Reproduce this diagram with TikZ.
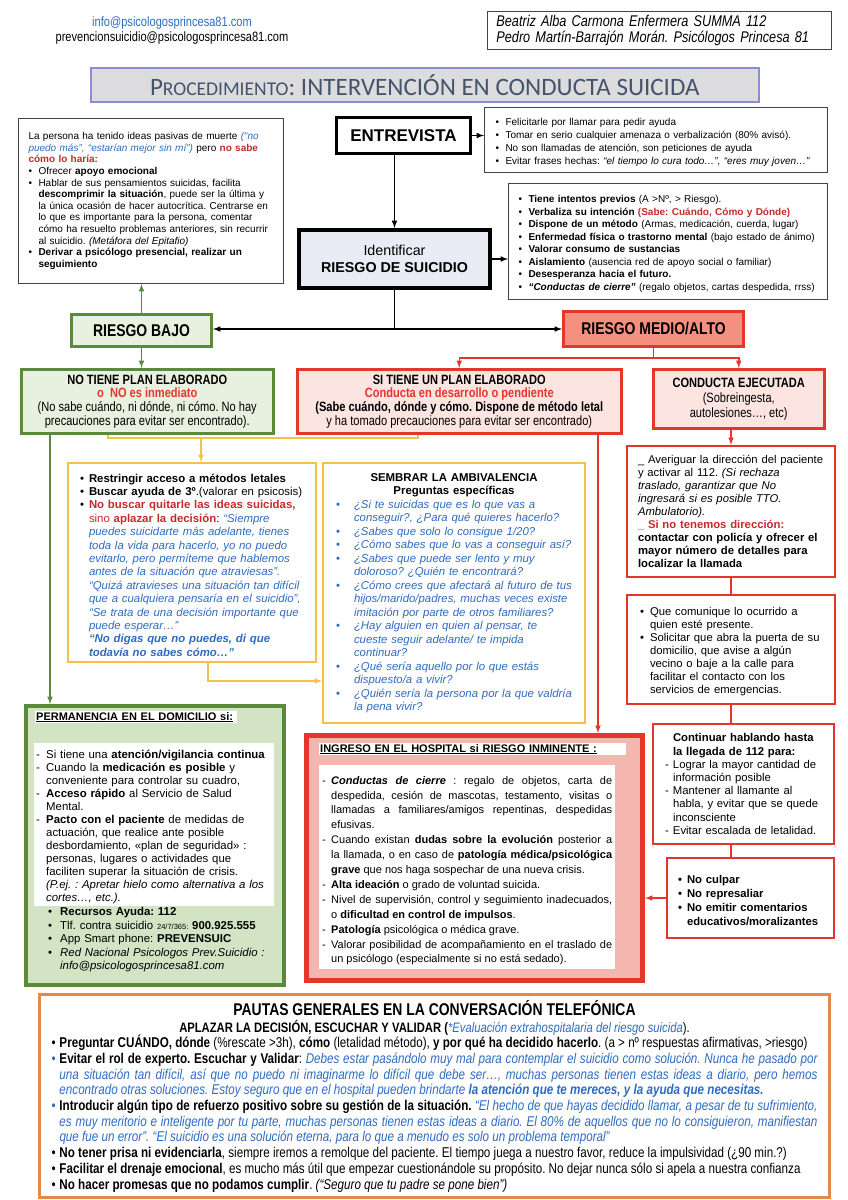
\documentclass[tikz,border=0pt]{standalone}
\usepackage{fontspec}
\setmainfont{Liberation Sans}
\newfontfamily\estrecha[FakeStretch=0.82]{Liberation Sans}
\newfontfamily\calibri{Carlito}
\usepackage{tikz}
\usetikzlibrary{calc}
\setlength{\parindent}{0pt}
\hyphenpenalty=10000
\exhyphenpenalty=10000
\frenchspacing

\definecolor{verde}{HTML}{5B8A3C}
\definecolor{verdeclaro}{HTML}{E8F1DF}
\definecolor{verdemedio}{HTML}{D2E4C3}
\definecolor{rojo}{HTML}{E4362B}
\definecolor{rojotexto}{HTML}{C42A2A}
\definecolor{salmon}{HTML}{F3907F}
\definecolor{rosa}{HTML}{FCE4E1}
\definecolor{rosafuerte}{HTML}{F4B7B0}
\definecolor{azul}{HTML}{2E6BC0}
\definecolor{amarillo}{HTML}{F2C14A}
\definecolor{naranja}{HTML}{E3894C}
\definecolor{pizarra}{HTML}{44546A}
\definecolor{lavanda}{HTML}{8C8CD0}
\definecolor{grisfondo}{HTML}{DCDCDF}
\definecolor{grisazul}{HTML}{E9ECF4}
\definecolor{grisborde}{HTML}{444444}

\newcommand{\tam}[2]{\fontsize{#1}{#2}\selectfont}
\newcommand{\punto}[2][10pt]{\par\hangindent=#1\hangafter=1\noindent\makebox[#1][l]{\textcolor{#2}{•}}}
\newcommand{\guion}[1][10pt]{\par\hangindent=#1\hangafter=1\noindent\makebox[#1][l]{-}}

\begin{document}
\begin{tikzpicture}[x=1pt, y=-1pt,
  caja/.style={draw, rectangle, anchor=north west, align=left, inner ysep=2pt},
  flecha/.style={->, >=latex, line width=1.5pt},
  linea/.style={line width=1.5pt}]

\useasboundingbox (0,0) rectangle (847,1200);

% cabecera
\node [font=\estrecha\tam{13.5}{15}, text=azul] (correo) at (172,23) {info@psicologosprincesa81.com};
\node [font=\estrecha\tam{13.5}{15}] (correosuic) at (172,38) {prevencionsuicidio@psicologosprincesa81.com};
\node [caja, draw=grisborde, line width=0.8pt, minimum width=344, minimum height=38, inner xsep=9pt, text width=326, font=\estrecha\itshape\tam{15.5}{16}] (autores) at (487,11) {Beatriz Alba Carmona Enfermera SUMMA 112\\Pedro Martín-Barrajón Morán. Psicólogos Princesa 81};
\node [caja, draw=lavanda, line width=1.5pt, fill=grisfondo, minimum width=668, minimum height=34, align=center, text=pizarra, font=\calibri\tam{25}{26}] (titulo) at (90,67) {P{\tam{19.5}{21}ROCEDIMIENTO}: INTERVENCIÓN EN CONDUCTA SUICIDA};

% entrevista y riesgo
\node [caja, line width=3pt, minimum width=134, minimum height=36, align=center, font=\bfseries\tam{17}{20}] (entrevista) at (335,116) {ENTREVISTA};
\node [caja, draw=grisborde, line width=1pt, minimum width=343, minimum height=65, inner xsep=11pt, text width=321, font=\tam{10}{13}] (consejos) at (484,107) {\punto{black}Felicitarle por llamar para pedir ayuda
\punto{black}Tomar en serio cualquier amenaza o verbalización (80\% avisó).
\punto{black}No son llamadas de atención, son peticiones de ayuda
\punto{black}Evitar frases hechas: \textit{“el tiempo lo cura todo…”, “eres muy joven…”}\par};
\node [caja, draw=grisborde, line width=1pt, minimum width=265, minimum height=165, inner xsep=10pt, text width=245, font=\tam{10}{11.6}] (ideas) at (18,118) {La persona ha tenido ideas pasivas de muerte \textcolor{azul}{\itshape (“no\newline puedo más”, “estarían mejor sin mí”)} pero \textcolor{rojotexto}{\bfseries no sabe\newline cómo lo haría:}
\punto{black}Ofrecer \textbf{apoyo emocional}
\punto{black}Hablar de sus pensamientos suicidas, facilita\newline \textbf{descomprimir la situación}, puede ser la última y\newline la única ocasión de hacer autocrítica. Centrarse en\newline lo que es importante para la persona, comentar\newline cómo ha resuelto problemas anteriores, sin recurrir\newline al suicidio. \textit{(Metáfora del Epitafio)}
\punto{black}\textbf{Derivar a psicólogo presencial, realizar un\newline seguimiento}\par};
\node [caja, line width=4pt, fill=grisazul, minimum width=191, minimum height=58, align=center, font=\tam{14.3}{17}] (identificar) at (297,228) {Identificar\\\textbf{RIESGO DE SUICIDIO}};
\node [caja, draw=grisborde, line width=1pt, minimum width=319, minimum height=116, inner xsep=10pt, text width=299, font=\tam{10}{12.5}] (factores) at (508,183) {\punto{black}\textbf{Tiene intentos previos} (A >Nº, > Riesgo).
\punto{black}\textbf{Verbaliza su intención} \textcolor{rojotexto}{\bfseries (Sabe: Cuándo, Cómo y Dónde)}
\punto{black}\textbf{Dispone de un método} (Armas, medicación, cuerda, lugar)
\punto{black}\textbf{Enfermedad física o trastorno mental} (bajo estado de ánimo)
\punto{black}\textbf{Valorar consumo de sustancias}
\punto{black}\textbf{Aislamiento} (ausencia red de apoyo social o familiar)
\punto{black}\textbf{Desesperanza hacia el futuro.}
\punto{black}\textbf{\textit{“Conductas de cierre”}} (regalo objetos, cartas despedida, rrss)\par};

% niveles
\node [caja, draw=verde, line width=3pt, fill=verdeclaro, minimum width=140, minimum height=32, align=center, font=\estrecha\bfseries\tam{17}{19}] (bajo) at (70,313) {RIESGO BAJO};
\node [caja, draw=rojo, line width=3pt, fill=salmon, minimum width=180, minimum height=35, align=center, font=\estrecha\bfseries\tam{17}{19}] (medio) at (562,310) {RIESGO MEDIO/ALTO};
\node [caja, draw=verde, line width=2.5pt, fill=verdeclaro, minimum width=252, minimum height=64, align=center, font=\estrecha\tam{13.5}{13.7}] (notiene) at (20,368) {\textbf{NO TIENE PLAN ELABORADO}\\\textcolor{rojo}{\bfseries o\ \ NO es inmediato}\\(No sabe cuándo, ni dónde, ni cómo. No hay\\precauciones para evitar ser encontrado).};
\node [caja, draw=rojo, line width=2.5pt, fill=rosa, minimum width=324, minimum height=64, align=center, font=\estrecha\tam{13.5}{13.7}] (sitiene) at (296,368) {\textbf{SI TIENE UN PLAN ELABORADO}\\\textcolor{rojo}{\bfseries Conducta en desarrollo o pendiente}\\\textbf{(Sabe cuándo, dónde y cómo. Dispone de método letal}\\y ha tomado precauciones para evitar ser encontrado)};
\node [caja, draw=rojo, line width=2.5pt, fill=rosa, minimum width=171, minimum height=59, align=center, font=\estrecha\tam{13.5}{15}] (conducta) at (652,368) {\textbf{CONDUCTA EJECUTADA}\\(Sobreingesta,\\autolesiones…, etc)};

% cajas amarillas
\node [caja, draw=amarillo, line width=2pt, minimum width=248, minimum height=199, inner xsep=12pt, text width=224, font=\tam{11.4}{13.4}] (aplazar) at (67,462) {\punto[9pt]{black}\textbf{Restringir acceso a métodos letales}
\punto[9pt]{black}\textbf{Buscar ayuda de 3º}.(valorar en psicosis)
\punto[9pt]{black}\textcolor{rojotexto}{\bfseries No buscar quitarle las ideas suicidas,}\newline \textcolor{rojotexto}{sino \textbf{aplazar la decisión}}: \textcolor{azul}{\itshape “Siempre\newline puedes suicidarte más adelante, tienes\newline toda la vida para hacerlo, yo no puedo\newline evitarlo, pero permíteme que hablemos\newline antes de la situación que atraviesas”.\newline “Quizá atravieses una situación tan difícil\newline que a cualquiera pensaría en el suicidio”,\newline “Se trata de una decisión importante que\newline puede esperar…”\newline \bfseries “No digas que no puedes, di que\newline todavía no sabes cómo…”}\par};
\node [caja, draw=amarillo, line width=2pt, minimum width=262, minimum height=260, inner xsep=13pt, text width=236, font=\tam{11.4}{13.5}] (ambivalencia) at (322,462) {{\centering\bfseries SEMBRAR LA AMBIVALENCIA\\Preguntas específicas\par}
\punto[18pt]{azul}\textcolor{azul}{\itshape ¿Si te suicidas que es lo que vas a\newline conseguir?, ¿Para qué quieres hacerlo?}
\punto[18pt]{azul}\textcolor{azul}{\itshape ¿Sabes que solo lo consigue 1/20?}
\punto[18pt]{azul}\textcolor{azul}{\itshape ¿Cómo sabes que lo vas a conseguir así?}
\punto[18pt]{azul}\textcolor{azul}{\itshape ¿Sabes que puede ser lento y muy\newline doloroso? ¿Quién te encontrará?}
\punto[18pt]{azul}\textcolor{azul}{\itshape ¿Cómo crees que afectará al futuro de tus\newline hijos/marido/padres, muchas veces existe\newline imitación por parte de otros familiares?}
\punto[18pt]{azul}\textcolor{azul}{\itshape ¿Hay alguien en quien al pensar, te\newline cueste seguir adelante/ te impida\newline continuar?}
\punto[18pt]{azul}\textcolor{azul}{\itshape ¿Qué sería aquello por lo que estás\newline dispuesto/a a vivir?}
\punto[18pt]{azul}\textcolor{azul}{\itshape ¿Quién sería la persona por la que valdría\newline la pena vivir?}\par};

% columna derecha
\node [caja, draw=rojo, line width=2pt, minimum width=208, minimum height=131, inner xsep=11pt, text width=186, font=\tam{11.3}{13}] (direccion) at (626,445) {\_ Averiguar la dirección del paciente\\y activar al 112. \textit{(Si rechaza\\traslado, garantizar que No\\ingresará si es posible TTO.\\Ambulatorio).}\\\textcolor{rojotexto}{\bfseries \_ Si no tenemos dirección:}\\\textbf{contactar con policía y ofrecer el\\mayor número de detalles para\\localizar la llamada}};
\node [caja, draw=rojo, line width=2pt, minimum width=208, minimum height=109, inner xsep=13pt, text width=182, font=\tam{11.3}{13}] (comunique) at (626,594) {\punto{black}Que comunique lo ocurrido a\newline quien esté presente.
\punto{black}Solicitar que abra la puerta de su\newline domicilio, que avise a algún\newline vecino o baje a la calle para\newline facilitar el contacto con los\newline servicios de emergencias.\par};
\node [caja, draw=rojo, line width=2pt, minimum width=181, minimum height=120, inner xsep=12pt, text width=157, font=\tam{11.3}{13.2}] (hablando) at (652,723) {\hangindent=8pt\hangafter=0\textbf{Continuar hablando hasta\newline la llegada de 112 para:}
\guion[8pt]Lograr la mayor cantidad de\newline información posible
\guion[8pt]Mantener al llamante al\newline habla, y evitar que se quede\newline inconsciente
\guion[8pt]Evitar escalada de letalidad.\par};
\node [caja, draw=rojo, line width=2pt, minimum width=167, minimum height=80, inner xsep=11pt, text width=145, font=\bfseries\tam{11.3}{14}] (noculpar) at (666,857) {\punto[9pt]{black}No culpar
\punto[9pt]{black}No represaliar
\punto[9pt]{black}No emitir comentarios\newline educativos/moralizantes\par};

% permanencia
\node [caja, draw=verde, line width=4pt, fill=verdemedio, minimum width=258, minimum height=279] (domicilio) at (24,704) {};
\node [anchor=north west, fill=white, inner sep=1pt, minimum height=12, text width=200, align=left, font=\bfseries\tam{11}{12}] (domtit) at (35,711) {\underline{PERMANENCIA EN EL DOMICILIO si:}};
\node [anchor=north west, fill=white, inner xsep=2pt, inner ysep=2pt, text width=236, align=left, font=\tam{11.4}{13}] (domlista) at (34,743) {\guion Si tiene una \textbf{atención/vigilancia continua}
\guion Cuando la \textbf{medicación es posible} y\newline conveniente para controlar su cuadro,
\guion \textbf{Acceso rápido} al Servicio de Salud\newline Mental.
\guion \textbf{Pacto con el paciente} de medidas de\newline actuación, que realice ante posible\newline desbordamiento, «plan de seguridad» :\newline personas, lugares o actividades que\newline faciliten superar la situación de crisis.\newline \textit{(P.ej. : Apretar hielo como alternativa a los\newline cortes…, etc.).}\par};
\node [anchor=north west, inner xsep=2pt, inner ysep=2pt, text width=236, align=left, font=\tam{11.4}{13.5}] (domrec) at (34,900) {\leftskip=12pt
\punto[12pt]{black}\textbf{Recursos Ayuda: 112}
\punto[12pt]{black}Tlf. contra suicidio {\tam{7.5}{9}24/7/365:} \textbf{900.925.555}
\punto[12pt]{black}App Smart phone: \textbf{PREVENSUIC}
\punto[12pt]{black}\textit{Red Nacional Psicologos Prev.Suicidio :\newline info@psicologosprincesa81.com}\par};

% ingreso
\node [caja, draw=rojo, line width=5pt, fill=rosafuerte, minimum width=336, minimum height=245] (ingreso) at (304,733) {};
\node [anchor=north west, fill=white, inner sep=1pt, minimum height=12, text width=305, align=left, font=\bfseries\tam{11}{12}] (ingtit) at (319,743) {\underline{INGRESO EN EL HOSPITAL si RIESGO INMINENTE :}};
\node [anchor=north west, fill=white, inner xsep=3pt, inner ysep=4pt, text width=290, align=justify, font=\tam{11}{14.9}] (inglista) at (319,765) {\guion[9pt]\textbf{\textit{Conductas de cierre}} : regalo de objetos, carta de\linebreak despedida, cesión de mascotas, testamento, visitas o\linebreak llamadas a familiares/amigos repentinas, despedidas\linebreak efusivas.
\guion[9pt]Cuando existan \textbf{dudas sobre la evolución} posterior a\linebreak la llamada, o en caso de \textbf{patología médica/psicológica}\linebreak \textbf{grave} que nos haga sospechar de una nueva crisis.
\guion[9pt]\textbf{Alta ideación} o grado de voluntad suicida.
\guion[9pt]Nivel de supervisión, control y seguimiento inadecuados,\linebreak o \textbf{dificultad en control de impulsos}.
\guion[9pt]\textbf{Patología} psicológica o médica grave.
\guion[9pt]Valorar posibilidad de acompañamiento en el traslado de\linebreak un psicólogo (especialmente si no está sedado).\par};

% pautas generales
\node [caja, draw=naranja, line width=3pt, minimum width=790, minimum height=203, inner xsep=12pt, text width=766, align=justify, font=\estrecha\tam{14.2}{15.7}] (pautas) at (38,993) {{\centering\bfseries\tam{17}{19}PAUTAS GENERALES EN LA CONVERSACIÓN TELEFÓNICA\par}
{\centering\tam{13.7}{17}\textbf{APLAZAR LA DECISIÓN, ESCUCHAR Y VALIDAR (}\textcolor{azul}{\itshape *Evaluación extrahospitalaria del riesgo suicida}).\par}
\punto[8pt]{black}\textbf{Preguntar CUÁNDO, dónde} (\%rescate >3h), \textbf{cómo} (letalidad método), \textbf{y por qué ha decidido hacerlo}. (a > nº respuestas afirmativas, >riesgo)
\punto[8pt]{azul}\textbf{Evitar el rol de experto. Escuchar y Validar}: \textcolor{azul}{\itshape Debes estar pasándolo muy mal para contemplar el suicidio como solución. Nunca he pasado por\linebreak una situación tan difícil, así que no puedo ni imaginarme lo difícil que debe ser…, muchas personas tienen estas ideas a diario, pero hemos\linebreak encontrado otras soluciones. Estoy seguro que en el hospital pueden brindarte \textbf{la atención que te mereces, y la ayuda que necesitas.}}
\punto[8pt]{azul}\textbf{Introducir algún tipo de refuerzo positivo sobre su gestión de la situación.} \textcolor{azul}{\itshape “El hecho de que hayas decidido llamar, a pesar de tu sufrimiento,\linebreak es muy meritorio e inteligente por tu parte, muchas personas tienen estas ideas a diario. El 80\% de aquellos que no lo consiguieron, manifiestan\linebreak que fue un error”. “El suicidio es una solución eterna, para lo que a menudo es solo un problema temporal”}
\punto[8pt]{black}\textbf{No tener prisa ni evidenciarla}, siempre iremos a remolque del paciente. El tiempo juega a nuestro favor, reduce la impulsividad (¿90 min.?)
\punto[8pt]{black}\textbf{Facilitar el drenaje emocional}, es mucho más útil que empezar cuestionándole su propósito. No dejar nunca sólo si apela a nuestra confianza
\punto[8pt]{black}\textbf{No hacer promesas que no podamos cumplir}. \textit{(“Seguro que tu padre se pone bien”)}\par};

% conectores
\draw [flecha] (entrevista.south-|identificar.north)--(identificar.north);
\draw [flecha] (entrevista.east)--(entrevista.east-|consejos.west);
\draw [flecha] (identificar.east)--(identificar.east-|factores.west);
\draw [linea] (identificar.south)--(identificar.south|-medio.west);
\draw [flecha, <->] (bajo.east|-medio.west)--(medio.west);
\draw [flecha, verde] (bajo.north)--(bajo.north|-ideas.south);
\draw [flecha, verde] (bajo.south)--(bajo.south|-notiene.north);
\coordinate (rama) at ($(medio.south)+(0,10)$);
\draw [linea, rojo] (medio.south)--(rama);
\draw [flecha, rojo] (rama)-|(sitiene.north);
\draw [flecha, rojo] (rama)-|(conducta.north);
\coordinate (amA) at (108,438);
\coordinate (amB) at (418,438);
\coordinate (amC) at (201,438);
\draw [linea, amarillo] (notiene.south-|amA)--(amA)--(amB)--(sitiene.south-|amB);
\draw [flecha, amarillo] (amC)--(amC|-aplazar.north);
\coordinate (amD) at (208,681);
\draw [flecha, amarillo] (aplazar.south-|amD)--(amD)--(amD-|ambivalencia.west);
\coordinate (vd) at (50,440);
\draw [flecha, verde] (notiene.south-|vd)--(domicilio.north-|vd);
\coordinate (rj) at (598,440);
\draw [flecha, rojo] (sitiene.south-|rj)--(ingreso.north-|rj);
\draw [flecha, rojo] (conducta.south-|direccion.north)--(direccion.north);
\draw [linea, rojo] (direccion.south)--(comunique.north);
\draw [linea, rojo] (comunique.south)--(comunique.south|-hablando.north);
\draw [linea, rojo] (hablando.south-|comunique.south)--(noculpar.north-|comunique.south);
\draw [flecha, rojo] (noculpar.west)--(noculpar.west-|ingreso.east);
\end{tikzpicture}
\end{document}
